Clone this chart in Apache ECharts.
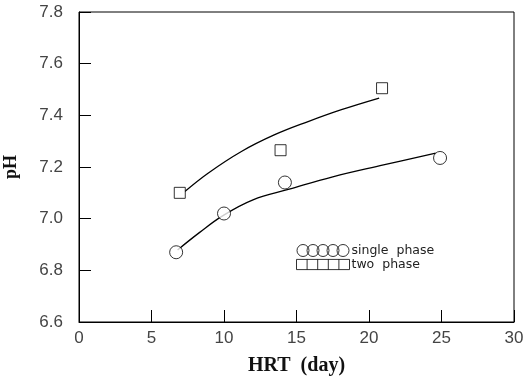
<!DOCTYPE html>
<html>
<head>
<meta charset="utf-8">
<script src="https://cdn.jsdelivr.net/npm/echarts@6/dist/echarts.min.js"></script>
<style>
  html, body { margin: 0; padding: 0; background: #fff; }
  #chart { width: 524px; height: 377px; }
</style>
</head>
<body>
<div id="chart"></div>
<script>
// measured points
var singleHRT = [6.7, 10, 14.2, 24.9];
var singlePH = [6.87, 7.02, 7.14, 7.235];
var twoHRT = [6.95, 13.9, 20.9];
var twoPH = [7.10, 7.265, 7.505];

// fitted curves
var singleFitHRT = [6.8, 8.3, 9.9, 12, 14.5, 17.5, 21, 24.6];
var singleFitPH = [6.879, 6.946, 7.011, 7.073, 7.114, 7.162, 7.208, 7.254];
var twoFitHRT = [7.3, 8.9, 11.2, 13.5, 15.8, 18.1, 20.7];
var twoFitPH = [7.105, 7.176, 7.26, 7.325, 7.376, 7.422, 7.467];

var xTicks = { min: 0, max: 30, interval: 5 };
var yTicks = { min: 6.6, max: 7.8, interval: 0.2 };

function pairs(xs, ys) {
  var out = [];
  for (var i = 0; i < xs.length; i++) out.push([xs[i], ys[i]]);
  return out;
}

var circles5 = 'path://M0,6a6,6 0 1,0 12,0a6,6 0 1,0 -12,0M10,6a6,6 0 1,0 12,0a6,6 0 1,0 -12,0M20,6a6,6 0 1,0 12,0a6,6 0 1,0 -12,0M30,6a6,6 0 1,0 12,0a6,6 0 1,0 -12,0M40,6a6,6 0 1,0 12,0a6,6 0 1,0 -12,0';
var squares5 = 'path://M0,0H52V10H0ZM10.4,0V10M20.8,0V10M31.2,0V10M41.6,0V10';

var chart = echarts.init(document.getElementById('chart'));
var labelFont = { fontFamily: 'Liberation Sans', fontSize: 17, color: '#444' };

var option = {
  animation: false,
  grid: {
    left: 79, right: 10, top: 12, bottom: 55, outerBoundsMode: 'none',
    show: true, borderColor: '#000', borderWidth: 1
  },
  legend: {
    left: 291, top: 239, orient: 'vertical', itemGap: 1,
    itemWidth: 53, itemHeight: 12,
    data: [
      { name: 'single phase', icon: circles5 },
      { name: 'two phase', icon: squares5 }
    ],
    formatter: function (name) { return name.replace(' ', '  '); },
    itemStyle: { color: 'transparent', borderColor: '#000', borderWidth: 1 },
    textStyle: { fontFamily: 'DejaVu Sans', fontSize: 12.5, color: '#222', padding: [0, 0, 0, -3] }
  },
  xAxis: {
    type: 'value', min: xTicks.min, max: xTicks.max, interval: xTicks.interval,
    name: 'HRT  (day)', nameLocation: 'middle', nameGap: 34,
    nameTextStyle: { fontFamily: 'Liberation Serif', fontWeight: 'bold', fontSize: 20, color: '#111' },
    axisLine: { lineStyle: { color: '#000', width: 1 } },
    axisTick: { inside: true, length: 12, lineStyle: { color: '#000' } },
    axisLabel: Object.assign({ margin: 8 }, labelFont),
    splitLine: { show: false }
  },
  yAxis: {
    type: 'value', min: yTicks.min, max: yTicks.max, interval: yTicks.interval,
    name: 'pH', nameLocation: 'middle', nameGap: 59, nameRotate: 90,
    nameTextStyle: { fontFamily: 'Liberation Serif', fontWeight: 'bold', fontSize: 18, color: '#111' },
    axisLine: { lineStyle: { color: '#000', width: 1 } },
    axisTick: { inside: true, length: 12, lineStyle: { color: '#000' } },
    axisLabel: Object.assign({ margin: 16, formatter: function (v) { return v.toFixed(1); } }, labelFont),
    splitLine: { show: false }
  },
  series: [
    {
      name: 'single phase', type: 'scatter', symbol: 'circle', symbolSize: 13,
      itemStyle: { color: '#fff', borderColor: '#000', borderWidth: 1 },
      data: pairs(singleHRT, singlePH), z: 3
    },
    {
      name: 'two phase', type: 'scatter', symbol: 'rect', symbolSize: 11,
      itemStyle: { color: '#fff', borderColor: '#000', borderWidth: 1 },
      data: pairs(twoHRT, twoPH), z: 3
    },
    {
      name: 'single fit', type: 'line', smooth: 0.4, showSymbol: false, symbol: 'none',
      lineStyle: { color: '#000', width: 1.3 },
      data: pairs(singleFitHRT, singleFitPH), z: 2
    },
    {
      name: 'two fit', type: 'line', smooth: 0.4, showSymbol: false, symbol: 'none',
      lineStyle: { color: '#000', width: 1.3 },
      data: pairs(twoFitHRT, twoFitPH), z: 2
    }
  ]
};
chart.setOption(option);
</script>
</body>
</html>
